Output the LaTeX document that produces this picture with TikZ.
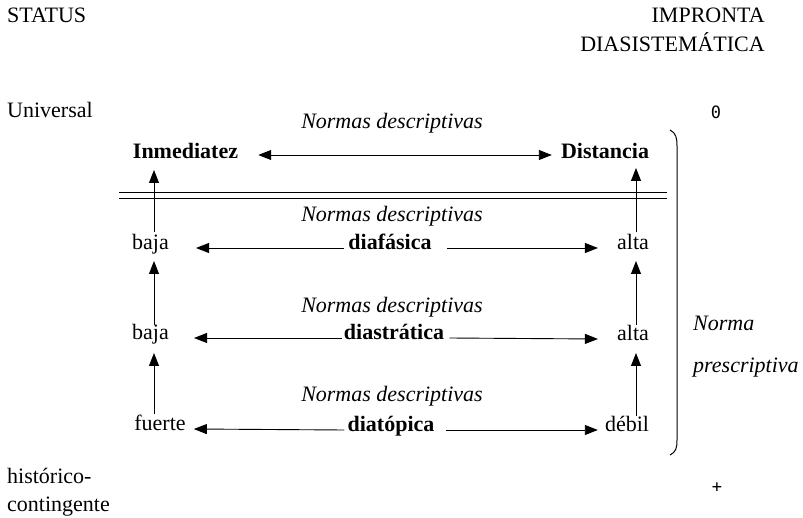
\documentclass[tikz,border=0pt]{standalone}
\usepackage{fontspec}
\setmainfont{Liberation Serif}
\newfontfamily\monof{DejaVu Sans Mono}
\usetikzlibrary{arrows.meta,calc}
\newcommand\myfs{\fontsize{22}{26}\selectfont}
\begin{document}
\begin{tikzpicture}[x=1pt,y=-1pt,
  every node/.style={inner sep=0pt, font=\myfs},
  tb/.style={anchor=base},
  tw/.style={anchor=base west},
  te/.style={anchor=base east},
  it/.style={font=\myfs\itshape},
  bf/.style={font=\myfs\bfseries},
  mono/.style={font=\monof\fontsize{17}{19}\selectfont},
  arr/.style={line width=0.9pt, -{Triangle[length=13pt,width=10pt]}},
  darr/.style={line width=0.9pt, {Triangle[length=13pt,width=10pt]}-{Triangle[length=13pt,width=10pt]}},
  rule/.style={line width=1pt}
]
\useasboundingbox (0,0) rectangle (803,518);
% column coordinates
\coordinate (cL) at (154,0);
\coordinate (cR) at (636,0);
% side labels
\node[tw] (status) at (7,23) {STATUS};
\node[te] (impr) at (765,23) {IMPRONTA};
\node[te] (dias) at (765,52) {DIASISTEMÁTICA};
\node[tw] (univ) at (7,118) {Universal};
\node[tw] (hist) at (7,483) {histórico-};
\node[tw] (cont) at (7,511) {contingente};
\node[mono] (zero) at (716,112) {0};
\node[mono] (plus) at (717,488) {+};
\node[tw,it] (norma) at (693,331) {Norma};
\node[tw,it] (presc) at (693,373) {prescriptiva};
% row 0
\node[tb,it] (nd0) at (392,129) {Normas descriptivas};
\node[tb,bf] (inm) at (185.5,159) {Inmediatez};
\node[tb,bf] (dist) at (605,159) {Distancia};
% row 1
\node[tb,it] (nd1) at (392,222) {Normas descriptivas};
\node[tb] (baja1) at (150.5,250) {baja};
\node[tb,bf] (diaf) at (390,250) {diafásica};
\node[tb] (alta1) at (633,250) {alta};
% row 2
\node[tb,it] (nd2) at (392,313) {Normas descriptivas};
\node[tb] (baja2) at (150.5,340) {baja};
\node[tb,bf] (diast) at (394,340) {diastrática};
\node[tb] (alta2) at (633,341) {alta};
% row 3
\node[tb,it] (nd3) at (392,402) {Normas descriptivas};
\node[tb] (fuer) at (160,430) {fuerte};
\node[tb,bf] (diat) at (391,431) {diatópica};
\node[tb] (deb) at (627,431) {débil};
% double rule
\draw[rule] (119,193) -- (667,193);
\draw[rule] (119,199) -- (667,199);
% bracket
\draw[rule] (670,130) .. controls (676,133) and (677,138) .. (677,146) -- (677,440) .. controls (677,448) and (676,452) .. (670,455);
% horizontal arrows
\draw[darr] ($(inm.base east)+(20,-4)$) -- ($(dist.base west)+(-9,-4)$);
\draw[arr] ($(diaf.base west)+(-4,-2)$) -- ($(baja1.base east)+(27,-2)$);
\draw[arr] ($(diaf.base east)+(15,-2)$) -- ($(alta1.base west)+(-19,-2)$);
\draw[arr] ($(diast.base west)+(-2,-2)$) -- ($(baja2.base east)+(25,-2)$);
\draw[arr] ($(diast.base east)+(5,-2)$) -- ($(alta2.base west)+(-19,-2)$);
\draw[arr] ($(diat.base west)+(-3,-1)$) -- ($(fuer.base east)+(8,-1)$);
\draw[arr] ($(diat.base east)+(11,-1)$) -- ($(deb.base west)+(-7,-1)$);
% vertical arrows
\draw[arr] ($(baja1.north -| cL)+(0,-3)$) -- ($(inm.base -| cL)+(0,11)$);
\draw[arr] (baja2.north -| cL) -- ($(baja1.base -| cL)+(0,11)$);
\draw[arr] (fuer.north -| cL) -- ($(baja2.base -| cL)+(0,13)$);
\draw[arr] ($(alta1.north -| cR)+(0,-3)$) -- ($(dist.base -| cR)+(0,9)$);
\draw[arr] ($(alta2.north -| cR)+(0,-1)$) -- ($(alta1.base -| cR)+(0,11)$);
\draw[arr] (deb.north -| cR) -- ($(alta2.base -| cR)+(0,12)$);
\end{tikzpicture}
\end{document}
